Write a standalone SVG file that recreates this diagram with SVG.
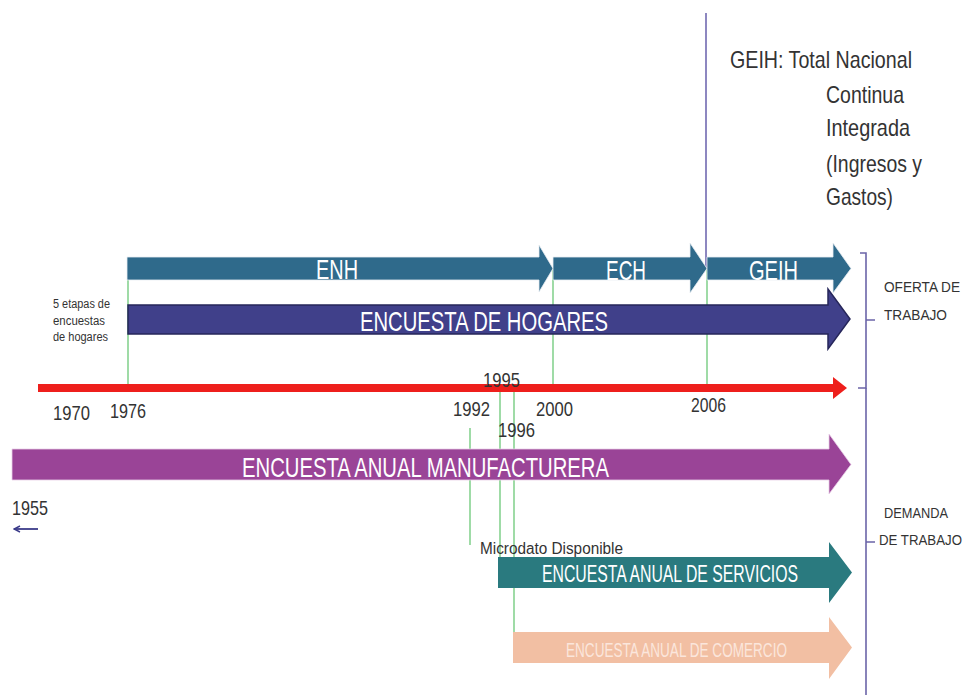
<svg xmlns="http://www.w3.org/2000/svg" width="966" height="695" viewBox="0 0 966 695">
<style>
.t{font-family:"Liberation Sans Narrow","Liberation Sans",Arial,sans-serif;}
.w{fill:#ffffff;}
.d{fill:#333333;}
.g{stroke:#5fc36c;stroke-width:1.2;fill:none;}
.br{stroke:#6b64a8;stroke-width:1.6;fill:none;}
.blue{fill:#2f6a8b;stroke:#e8eef2;stroke-width:0.8;}
</style>
<defs>
<marker id="la" markerWidth="8" markerHeight="8" refX="7" refY="4" orient="auto" markerUnits="userSpaceOnUse">
<path d="M1,1 L7,4 L1,7" fill="none" stroke="#3b3b8a" stroke-width="1.4"/>
</marker>
</defs>
<rect width="966" height="695" fill="#ffffff"/>

<g id="connectors">
<line x1="706" y1="13" x2="706" y2="268" stroke="#8d87c0" stroke-width="2"/>
<line class="g" x1="128" y1="257" x2="128" y2="388"/>
<line class="g" x1="553" y1="268" x2="553" y2="388"/>
<line class="g" x1="707" y1="268" x2="707" y2="388"/>
<line class="g" x1="470" y1="428" x2="470" y2="545"/>
<line class="g" x1="500" y1="390" x2="500" y2="588"/>
<line class="g" x1="514" y1="390" x2="514" y2="648"/>
<line x1="38" y1="529" x2="14" y2="529" stroke="#3b3b8a" stroke-width="1.8" marker-end="url(#la)"/>
<path class="br" d="M860,253 H866 V388 H858 M866,320 H875"/>
<path class="br" d="M866,388 V695 M866,542 H875"/>
</g>

<g id="enh">
<polygon class="blue" points="127,257 539,257 539,245 553,268.5 539,292 539,280 127,280"/>
<text class="t w" x="316" y="279" font-size="28" textLength="42" lengthAdjust="spacingAndGlyphs">ENH</text>
</g>
<g id="ech">
<polygon class="blue" points="553,257 690,257 690,243 707,268.5 690,293 690,280 553,280"/>
<text class="t w" x="606" y="280" font-size="28" textLength="40" lengthAdjust="spacingAndGlyphs">ECH</text>
</g>
<g id="geih">
<polygon class="blue" points="707,257 833,257 833,243 851,268.5 833,293 833,280 707,280"/>
<text class="t w" x="749" y="280" font-size="28" textLength="49" lengthAdjust="spacingAndGlyphs">GEIH</text>
</g>

<g id="hogares">
<polygon points="128,305 828,305 828,289 850,319 828,349 828,334 128,334" fill="#40408a" stroke="#26265a" stroke-width="1.5"/>
<text class="t w" x="360" y="331" font-size="28" textLength="248" lengthAdjust="spacingAndGlyphs">ENCUESTA DE HOGARES</text>
</g>

<g id="timeline">
<polygon points="38,384 833,384 833,377 847,388 833,399 833,392 38,392" fill="#ee1f1c"/>
</g>

<g id="manufacturera">
<polygon points="12,449 829,449 829,434 851,464.5 829,494 829,480 12,480" fill="#9a4497" stroke="#e9cfe7" stroke-width="0.8"/>
<text class="t w" x="242" y="477" font-size="28" textLength="367" lengthAdjust="spacingAndGlyphs">ENCUESTA ANUAL MANUFACTURERA</text>
</g>

<g id="servicios">
<polygon points="498,557 829,557 829,542 852,572.5 829,603 829,588 498,588" fill="#2a7a7f"/>
<text class="t w" x="542" y="582" font-size="23" textLength="256" lengthAdjust="spacingAndGlyphs">ENCUESTA ANUAL DE SERVICIOS</text>
</g>

<g id="comercio">
<polygon points="513,632 829,632 829,617 852,647.5 829,679 829,663 513,663" fill="#f2bfa3"/>
<text class="t" x="566" y="657" font-size="20" fill="#fbe6dc" textLength="221" lengthAdjust="spacingAndGlyphs">ENCUESTA ANUAL DE COMERCIO</text>
</g>

<g id="years">
<text class="t d" x="53" y="420" font-size="21" textLength="37" lengthAdjust="spacingAndGlyphs">1970</text>
<text class="t d" x="110" y="418" font-size="21" textLength="36" lengthAdjust="spacingAndGlyphs">1976</text>
<text class="t d" x="453" y="416" font-size="21" textLength="37" lengthAdjust="spacingAndGlyphs">1992</text>
<text class="t d" x="483" y="387" font-size="21" textLength="37" lengthAdjust="spacingAndGlyphs">1995</text>
<text class="t d" x="536" y="416" font-size="21" textLength="37" lengthAdjust="spacingAndGlyphs">2000</text>
<text class="t d" x="498" y="437" font-size="21" textLength="37" lengthAdjust="spacingAndGlyphs">1996</text>
<text class="t d" x="691" y="412" font-size="21" textLength="35" lengthAdjust="spacingAndGlyphs">2006</text>
<text class="t d" x="12" y="515" font-size="21" textLength="36" lengthAdjust="spacingAndGlyphs">1955</text>
</g>

<g id="etapas">
<text class="t d" x="53" y="308" font-size="12" textLength="57" lengthAdjust="spacingAndGlyphs">5 etapas de</text>
<text class="t d" x="53" y="325" font-size="12" textLength="52" lengthAdjust="spacingAndGlyphs">encuestas</text>
<text class="t d" x="53" y="341" font-size="12" textLength="55" lengthAdjust="spacingAndGlyphs">de hogares</text>
</g>

<g id="microdato">
<text class="t d" x="480" y="554" font-size="16" textLength="143" lengthAdjust="spacingAndGlyphs">Microdato Disponible</text>
</g>

<g id="geih-note">
<text class="t d" x="730" y="68" font-size="24" textLength="182" lengthAdjust="spacingAndGlyphs">GEIH: Total Nacional</text>
<text class="t d" x="826" y="103" font-size="24" textLength="78" lengthAdjust="spacingAndGlyphs">Continua</text>
<text class="t d" x="826" y="136" font-size="24" textLength="84" lengthAdjust="spacingAndGlyphs">Integrada</text>
<text class="t d" x="826" y="172" font-size="24" textLength="96" lengthAdjust="spacingAndGlyphs">(Ingresos y</text>
<text class="t d" x="826" y="205" font-size="24" textLength="67" lengthAdjust="spacingAndGlyphs">Gastos)</text>
</g>

<g id="oferta">
<text class="t d" x="884" y="292" font-size="15" textLength="76" lengthAdjust="spacingAndGlyphs">OFERTA DE</text>
<text class="t d" x="884" y="320" font-size="15" textLength="63" lengthAdjust="spacingAndGlyphs">TRABAJO</text>
</g>
<g id="demanda">
<text class="t d" x="884" y="518" font-size="15" textLength="64" lengthAdjust="spacingAndGlyphs">DEMANDA</text>
<text class="t d" x="879" y="545" font-size="14" textLength="83" lengthAdjust="spacingAndGlyphs">DE TRABAJO</text>
</g>
</svg>
